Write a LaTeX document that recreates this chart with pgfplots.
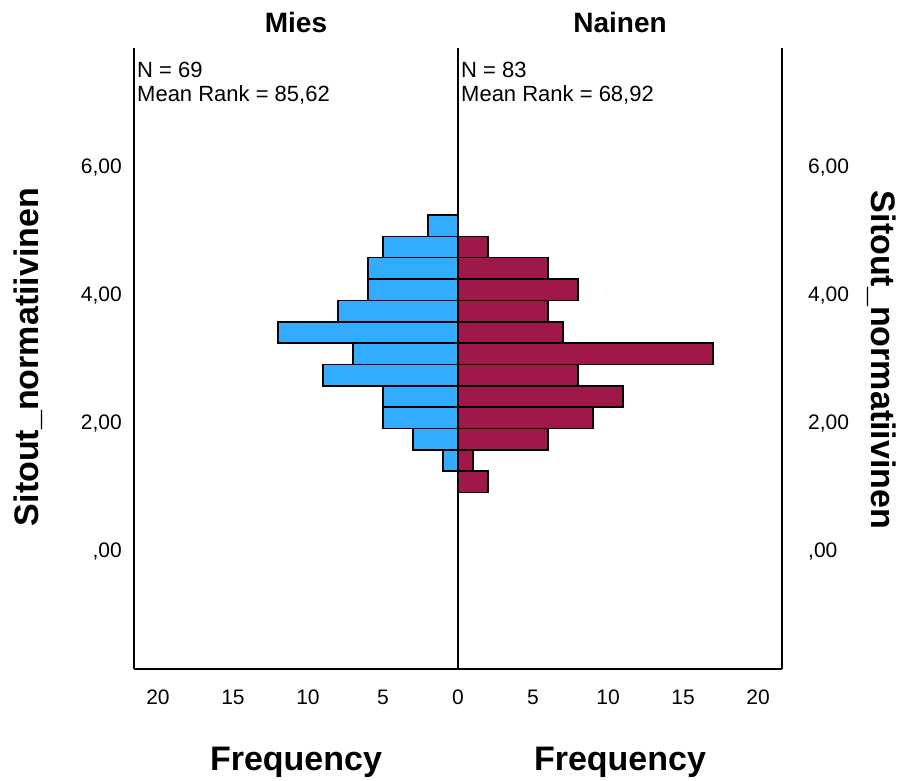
\documentclass[border=0pt]{standalone}
\usepackage{pgfplots}
\pgfplotsset{compat=1.18}
\usepackage{fontspec}
\setmainfont{Liberation Sans}
\definecolor{miesblue}{RGB}{51,172,255}
\definecolor{nainenred}{RGB}{160,24,74}
\begin{document}
\begin{tikzpicture}[x=1pt,y=1pt]
\useasboundingbox (0,0) rectangle (909,780);
\pgfplotsset{
  pyr/.style={
    scale only axis, width=324pt, height=621pt,
    ymin=-1.84, ymax=7.86,
    axis x line*=bottom, axis y line*=box,
    axis line style={line width=1.4pt, black, -},
    major tick length=0pt,
    ytick={0,2,4,6},
    /pgf/number format/assume math mode=true,
    tick label style={font=\fontsize{21}{21}\selectfont, inner sep=0pt},
    xticklabel style={anchor=north, yshift=-21pt},
    every axis plot/.append style={line width=1.4pt},
  }
}
% Mies (left)
\begin{axis}[pyr, at={(134pt,111pt)}, anchor=south west,
  x dir=reverse, xmin=0, xmax=21.6,
  xtick={0,5,10,15,20}, xticklabels={0,5,10,15,20},
  yticklabels={{,00},{2,00},{4,00},{6,00}},
  yticklabel style={anchor=east, xshift=-12pt},
  ]
\addplot[xbar interval, fill=miesblue, draw=black] coordinates {
(1,1.25) (3,1.5833) (5,1.9167) (5,2.25) (9,2.5833) (7,2.9167) (12,3.25)
(8,3.5833) (6,3.9167) (6,4.25) (5,4.5833) (2,4.9167) (2,5.25)};
\end{axis}
% Nainen (right)
\begin{axis}[pyr, at={(458pt,111pt)}, anchor=south west,
  xmin=0, xmax=21.6,
  xtick={5,10,15,20}, xticklabels={5,10,15,20},
  yticklabel pos=right,
  yticklabels={{,00},{2,00},{4,00},{6,00}},
  yticklabel style={anchor=west, xshift=26pt},
  ]
\addplot[xbar interval, fill=nainenred, draw=black] coordinates {
(2,0.9167) (1,1.25) (6,1.5833) (9,1.9167) (11,2.25) (8,2.5833) (17,2.9167)
(7,3.25) (6,3.5833) (8,3.9167) (6,4.25) (2,4.5833) (2,4.9167)};
\end{axis}
% texts
\node[anchor=base, inner sep=0pt, font=\fontsize{28}{28}\selectfont\bfseries] at (296,747) {Mies};
\node[anchor=base, inner sep=0pt, font=\fontsize{28}{28}\selectfont\bfseries] at (620,747) {Nainen};
\node[anchor=base west, inner sep=0pt, font=\fontsize{22}{22}\selectfont] at (137,702) {N = 69};
\node[anchor=base west, inner sep=0pt, font=\fontsize{22}{22}\selectfont] at (137,678) {Mean Rank = 85,62};
\node[anchor=base west, inner sep=0pt, font=\fontsize{22}{22}\selectfont] at (461,702) {N = 83};
\node[anchor=base west, inner sep=0pt, font=\fontsize{22}{22}\selectfont] at (461,678) {Mean Rank = 68,92};
\node[anchor=base, inner sep=0pt, font=\fontsize{34}{34}\selectfont\bfseries] at (296,10) {Frequency};
\node[anchor=base, inner sep=0pt, font=\fontsize{34}{34}\selectfont\bfseries] at (620,10) {Frequency};
\node[rotate=90, inner sep=0pt, font=\fontsize{34}{34}\selectfont\bfseries] at (28,423) {Sitout\_normatiivinen};
\node[rotate=-90, inner sep=0pt, font=\fontsize{34}{34}\selectfont\bfseries] at (882,420) {Sitout\_normatiivinen};
\end{tikzpicture}
\end{document}
